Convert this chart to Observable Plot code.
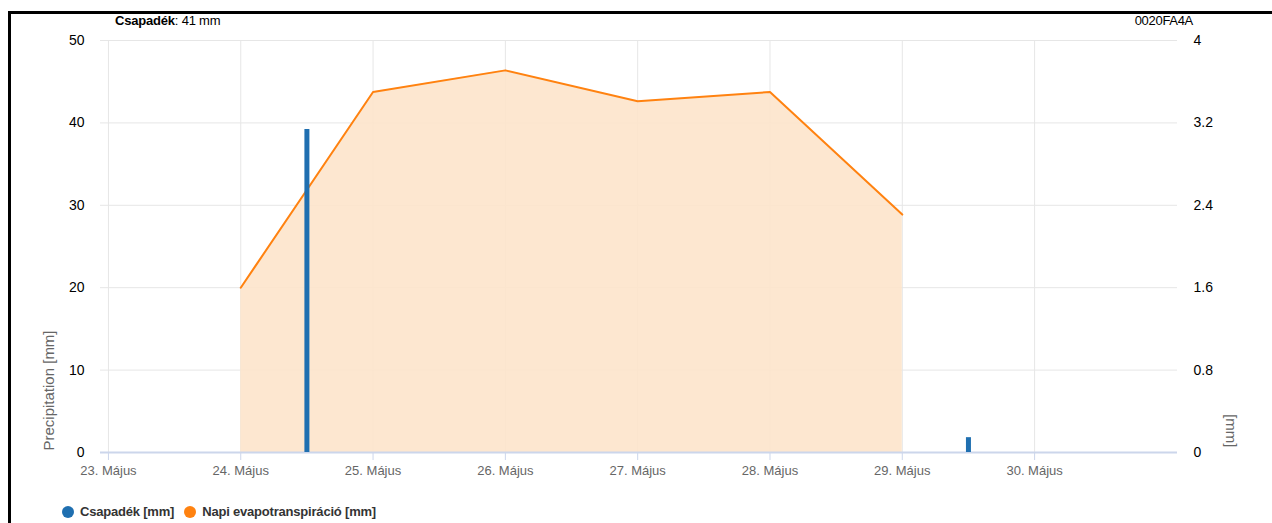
<!DOCTYPE html>
<html>
<head>
<meta charset="utf-8">
<script src="https://cdn.jsdelivr.net/npm/d3@7"></script>
<script src="https://cdn.jsdelivr.net/npm/@observablehq/plot@0.6"></script>
<style>
  html, body { margin: 0; padding: 0; background: #fff; }
  #wrap { position: relative; width: 1272px; height: 523px; overflow: hidden;
          font-family: "Liberation Sans", Arial, sans-serif; }
  #frame { position: absolute; left: 8px; top: 11px; width: 1270px; height: 520px;
           border-top: 3px solid #000; border-left: 3px solid #000; }
  #title { position: absolute; left: 115px; top: 13px; font-size: 13px; color: #000; letter-spacing: -0.2px; }
  #code { position: absolute; right: 79px; top: 13px; font-size: 13px; color: #000; letter-spacing: -0.3px; }
  #chart { position: absolute; left: 0; top: 30px; }
  #legend { position: absolute; left: 62px; top: 504px; font-size: 13px; font-weight: bold; color: #333;
            display: flex; align-items: center; letter-spacing: -0.2px; }
  .dot { display: inline-block; width: 12px; height: 12px; border-radius: 50%; margin-right: 6px; }
  .item { display: flex; align-items: center; margin-right: 10px; }
</style>
</head>
<body>
<div id="wrap">
  <div id="frame"></div>
  <div id="title"><b>Csapadék</b>: 41 mm</div>
  <div id="code">0020FA4A</div>
  <div id="chart"></div>
  <div id="legend"></div>
</div>
<script>
// Data
const dayTicks = [23, 24, 25, 26, 27, 28, 29, 30];
const tickLabelSuffix = ". Május";
const precipDays = [24.5, 29.5];
const precipValues = [39.2, 1.8];
const etDays = [24, 25, 26, 27, 28, 29];
const etValues = [1.60, 3.50, 3.71, 3.41, 3.50, 2.31];
const leftTicks = [0, 10, 20, 30, 40, 50];
const rightTickLabels = ["0", "0.8", "1.6", "2.4", "3.2", "4"];
const seriesNames = ["Csapadék [mm]", "Napi evapotranspiráció [mm]"];
const seriesColors = ["#1f6fb0", "#ff8210"];
const leftAxisTitle = "Precipitation [mm]";
const rightAxisTitle = "[mm]";

const ratio = 50 / 4; // right axis (0-4) mapped onto left axis (0-50)
const precip = precipDays.map((d, i) => ({day: d, value: precipValues[i]}));
const et = etDays.map((d, i) => ({day: d, value: etValues[i] * ratio}));

const fontFam = '"Liberation Sans", Arial, sans-serif';

const chart = Plot.plot({
  width: 1272,
  height: 460,
  marginLeft: 100,
  marginRight: 95,
  marginTop: 10,
  marginBottom: 38,
  style: {fontFamily: fontFam, background: "transparent", overflow: "visible"},
  x: {domain: [22.94, 31.08]},
  y: {domain: [0, 50]},
  marks: [
    Plot.ruleX(dayTicks, {stroke: "#e6e6e6", strokeWidth: 1}),
    Plot.ruleY(leftTicks.slice(1), {stroke: "#e6e6e6", strokeWidth: 1}),
    Plot.areaY(et, {x: "day", y: "value", fill: "#fde4cb", fillOpacity: 0.9}),
    Plot.lineY(et, {x: "day", y: "value", stroke: seriesColors[1], strokeWidth: 2}),
    Plot.ruleY([0], {stroke: "#ccd6eb", strokeWidth: 2}),
    Plot.ruleX(precip, {x: "day", y1: 0, y2: "value", stroke: seriesColors[0], strokeWidth: 5}),
    Plot.axisX({ticks: dayTicks, tickFormat: d => d + tickLabelSuffix, tickSize: 8, stroke: "#ccd6eb",
                tickPadding: 5, fill: "#666", fontSize: 13, label: null}),
    Plot.axisY({anchor: "left", ticks: leftTicks, tickSize: 0, tickPadding: 16, fill: "#000",
                fontSize: 14, label: null}),
    Plot.axisY({anchor: "right", ticks: leftTicks, tickSize: 0, tickPadding: 16, fill: "#000", fontSize: 14,
                tickFormat: d => rightTickLabels[leftTicks.indexOf(d)], label: null}),
    Plot.text([leftAxisTitle], {frameAnchor: "bottom-left", dx: -47, dy: -2, rotate: -90, textAnchor: "start",
                         fill: "#666", fontSize: 15, letterSpacing: "0.4px"}),
    Plot.text([rightAxisTitle], {frameAnchor: "bottom-right", dx: 48, dy: -5, rotate: 90, textAnchor: "end",
                         fill: "#666", fontSize: 15})
  ]
});
document.getElementById("chart").appendChild(chart);

const legend = document.getElementById("legend");
seriesNames.forEach((n, i) => {
  const it = document.createElement("span");
  it.className = "item";
  it.innerHTML = `<span class="dot" style="background:${seriesColors[i]}"></span>${n}`;
  legend.appendChild(it);
});
</script>
</body>
</html>
